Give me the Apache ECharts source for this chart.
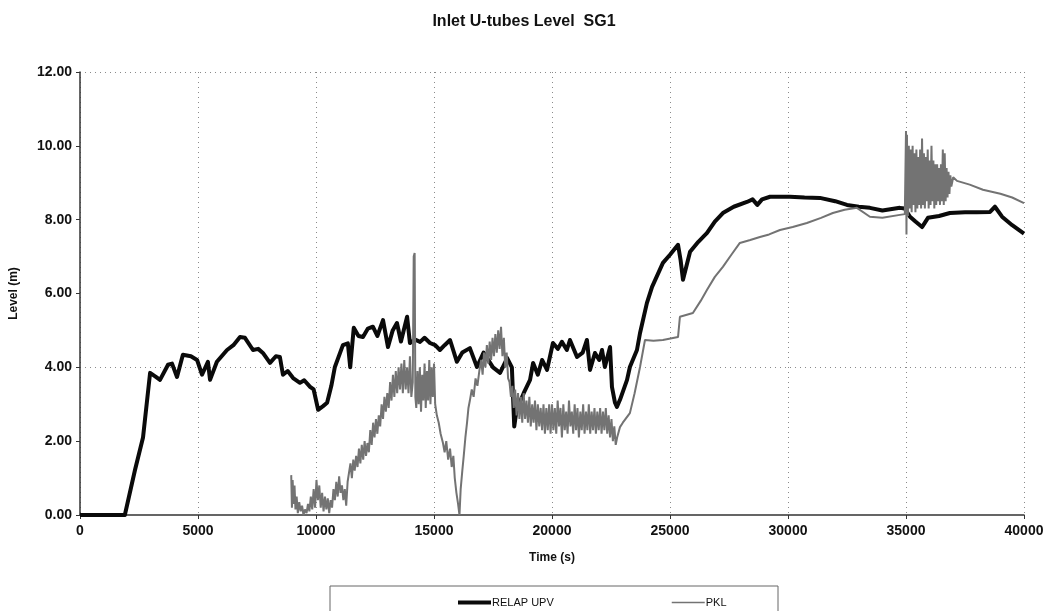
<!DOCTYPE html>
<html>
<head>
<meta charset="utf-8">
<script src="https://cdn.jsdelivr.net/npm/echarts@6/dist/echarts.min.js"></script>
<style>
html,body{margin:0;padding:0;background:#fff;}
#chart{width:1048px;height:611px;}
</style>
</head>
<body>
<div id="chart"></div>
<script>
// ---- data ----
const titleText = 'Inlet U-tubes Level  SG1';
const xTicks = [0, 5000, 10000, 15000, 20000, 25000, 30000, 35000, 40000];
const yTicks = [0, 2, 4, 6, 8, 10, 12];
const seriesNames = ['RELAP UPV', 'PKL'];

// RELAP UPV: [time s, level m]
const relapData = [
[0,0],[1900,0],[2330,1.22],[2670,2.1],[2970,3.85],[3200,3.75],[3390,3.66],[3730,4.07],[3900,4.1],[4110,3.74],
[4360,4.34],[4700,4.3],[4960,4.2],[5170,3.8],[5420,4.15],[5510,3.66],[5800,4.15],[6230,4.47],[6500,4.6],[6780,4.82],
[6990,4.8],[7330,4.47],[7550,4.5],[7750,4.39],[8050,4.12],[8300,4.3],[8470,4.28],[8600,3.8],[8800,3.9],[9030,3.71],
[9320,3.58],[9500,3.65],[9750,3.47],[9900,3.4],[10090,2.85],[10300,2.95],[10470,3.04],[10650,3.5],[10800,4.01],[11140,4.6],
[11350,4.65],[11450,4.0],[11600,5.07],[11800,4.85],[11990,4.82],[12200,5.05],[12410,5.1],[12600,4.85],[12840,5.28],[13050,4.55],
[13250,5.0],[13430,5.2],[13600,4.7],[13860,5.37],[13980,4.66],[14200,4.75],[14410,4.69],[14600,4.8],[14830,4.66],[15050,4.6],
[15250,4.47],[15450,4.6],[15680,4.74],[15970,4.15],[16200,4.4],[16520,4.52],[16820,4.01],[17100,4.4],[17500,4.0],[17800,3.85],
[18100,4.25],[18300,4.0],[18400,2.4],[18500,2.85],[18800,3.3],[19070,3.66],[19200,4.12],[19400,3.8],[19580,4.2],[19790,3.93],
[20040,4.66],[20250,4.5],[20420,4.69],[20630,4.47],[20760,4.74],[21060,4.28],[21300,4.4],[21480,4.74],[21610,3.93],[21820,4.39],
[22000,4.2],[22120,4.47],[22240,4.01],[22460,4.55],[22540,3.47],[22670,3.04],[22750,2.93],[22880,3.12],[23180,3.66],[23300,4.01],
[23600,4.47],[23730,4.93],[24020,5.74],[24240,6.18],[24700,6.83],[25000,7.05],[25340,7.32],[25450,6.9],[25550,6.37],[25850,7.13],
[26200,7.4],[26570,7.64],[26900,7.95],[27240,8.18],[27700,8.35],[28260,8.48],[28500,8.55],[28700,8.4],[28900,8.55],[29240,8.62],
[30080,8.62],[30700,8.6],[31350,8.59],[32000,8.5],[32500,8.4],[33000,8.35],[33470,8.32],[34000,8.25],[34740,8.32],[34950,8.3],
[35170,8.08],[35400,7.95],[35680,7.8],[35930,8.05],[36400,8.1],[36860,8.18],[37500,8.2],[38000,8.2],[38560,8.21],[38770,8.35],
[39070,8.08],[39500,7.85],[40000,7.62]
];

// PKL: [time s, level m]
const pklData = [
[8950,1.08],[8980,0.2],[9010,0.95],[9050,0.3],[9090,0.8],[9130,0.15],[9180,0.5],[9230,0.05],[9290,0.35],[9350,0.1],
[9410,0.25],[9470,0.0],[9530,0.15],[9600,0.05],[9660,0.3],[9720,0.1],[9780,0.5],[9840,0.15],[9900,0.7],[9960,0.2],
[10020,0.95],[10080,0.4],[10140,0.8],[10200,0.2],[10260,0.6],[10320,0.1],[10380,0.5],[10440,0.15],[10500,0.45],[10560,0.05],
[10620,0.4],[10680,0.2],[10740,0.7],[10800,0.4],[10860,0.9],[10920,0.5],[10980,1.05],[11040,0.6],[11100,0.8],[11160,0.4],
[11220,0.7],[11280,0.25],[11340,0.9],
[11400,0.9],[11460,1.4],[11520,1.0],[11580,1.5],[11640,1.2],[11700,1.6],[11760,1.3],[11820,1.8],[11880,1.4],[11940,1.9],
[12000,1.5],[12060,2.0],[12120,1.6],[12180,1.95],[12240,1.7],[12300,2.3],[12360,1.9],[12420,2.5],[12480,2.1],[12540,2.6],
[12600,2.2],[12660,2.7],[12720,2.4],[12780,3.0],[12840,2.6],[12900,3.2],[12960,2.8],[13020,3.3],[13080,2.9],[13140,3.6],
[13200,3.1],[13260,3.8],[13320,3.2],[13380,3.9],[13440,3.3],[13500,4.0],[13560,3.4],[13620,4.1],[13680,3.3],[13740,4.2],
[13800,3.4],[13860,4.0],[13920,3.3],[13980,4.3],[14040,3.2],
[14100,3.6],[14140,7.0],[14180,7.1],[14210,3.2],
[14250,2.9],[14300,3.9],[14350,3.0],[14400,4.0],[14450,2.8],[14500,3.8],[14550,3.1],[14600,4.1],[14650,2.9],[14700,3.9],
[14750,3.1],[14800,4.2],[14850,3.0],[14900,4.0],[14950,3.2],[15000,4.1],
[15050,3.0],[15120,2.7],[15200,2.5],[15280,2.2],[15380,1.95],[15450,1.7],[15520,2.0],[15600,1.5],[15680,1.8],[15750,1.3],
[15820,1.6],[15880,1.0],[15950,0.6],[16020,0.3],[16080,0.0],[16130,0.7],[16200,1.2],[16260,1.6],[16330,2.1],[16400,2.5],
[16460,2.9],[16520,3.1],[16600,3.4],[16680,3.2],[16760,3.7],[16840,3.5],[16920,3.9],
[17000,4.2],[17060,3.8],[17120,4.4],[17180,4.0],[17240,4.6],[17300,4.1],[17360,4.7],[17420,4.2],[17480,4.8],[17540,4.3],
[17600,4.9],[17660,4.4],[17720,5.0],[17780,4.5],[17840,5.1],[17900,4.3],[17960,4.8],[18020,4.0],[18080,4.4],[18140,3.7],
[18200,3.6],[18260,3.2],[18320,3.5],[18380,2.9],[18440,3.4],[18500,2.7],[18560,3.3],[18620,2.6],[18680,3.2],[18740,2.5],
[18800,3.3],[18860,2.6],[18920,3.1],[18980,2.5],[19040,3.2],[19100,2.4],[19160,3.0],[19220,2.5],[19280,3.1],[19340,2.3],
[19400,3.0],[19460,2.4],[19520,2.9],[19580,2.3],[19640,3.0],[19700,2.2],[19760,2.9],[19820,2.3],[19880,3.0],[19940,2.2],
[20000,3.0],[20060,2.3],[20120,2.9],[20180,2.2],[20240,3.1],[20300,2.4],[20360,2.9],[20420,2.1],[20480,3.0],[20540,2.3],
[20600,2.8],[20660,2.2],[20720,3.1],[20780,2.4],[20840,2.8],[20900,2.2],[20960,3.0],[21020,2.3],[21080,2.9],[21140,2.1],
[21200,2.8],[21260,2.3],[21320,3.0],[21380,2.2],[21440,2.8],[21500,2.3],[21560,3.0],[21620,2.2],[21680,2.8],[21740,2.3],
[21800,2.9],[21860,2.2],[21920,2.8],[21980,2.3],[22040,2.9],[22100,2.2],[22160,2.8],[22220,2.3],[22280,2.9],[22340,2.2],
[22400,2.7],[22460,2.1],[22520,2.6],[22580,2.0],[22640,2.4],[22700,1.9],[22760,2.1],
[22880,2.38],[23000,2.5],[23300,2.76],[23500,3.3],[23730,4.01],[23940,4.74],[24300,4.72],[24700,4.74],[25340,4.82],[25420,5.37],
[25970,5.47],[26300,5.8],[26570,6.1],[26900,6.45],[27240,6.72],[27600,7.05],[27960,7.37],[28400,7.45],[28810,7.53],[29200,7.6],
[29660,7.72],[30200,7.8],[30800,7.91],[31400,8.05],[31900,8.18],[32400,8.27],[32920,8.32],[33470,8.08],[34000,8.05],[34740,8.13],
[34950,8.15],
[35000,10.4],[35020,7.6],[35040,10.3],[35080,8.1],[35120,10.0],[35160,8.3],[35200,9.9],[35240,8.2],[35280,10.0],[35320,8.4],
[35360,9.8],[35400,8.2],[35440,9.9],[35480,8.3],[35520,9.7],[35560,8.4],[35600,9.9],[35640,8.3],[35680,10.2],[35720,8.4],
[35760,9.8],[35800,8.3],[35840,9.7],[35880,8.5],[35920,9.9],[35960,8.3],[36000,9.6],[36040,8.4],[36080,10.0],[36120,8.5],
[36160,9.6],[36200,8.3],[36240,9.5],[36280,8.4],[36320,9.5],[36360,8.5],[36400,9.4],[36440,8.4],[36480,9.5],[36520,8.5],
[36560,9.9],[36600,8.4],[36640,9.8],[36680,8.5],[36720,9.4],[36760,8.6],[36800,9.3],[36840,8.7],[36880,9.2],[36920,8.9],
[37000,9.15],[37160,9.05],[37700,8.95],[38260,8.81],[39000,8.7],[39500,8.6],[40000,8.45]
];

const chart = echarts.init(document.getElementById('chart'), null, {renderer: 'canvas'});
const FONT = '"Liberation Sans", Arial, sans-serif';
const clear = 'rgba(0,0,0,0)';
const RELAP_COLOR = '#0a0a0a';
const PKL_COLOR = '#737373';

chart.setOption({
  animation: false,
  backgroundColor: '#fff',
  title: {
    text: titleText,
    left: 'center',
    top: 9,
    textStyle: {fontFamily: FONT, fontSize: 16, fontWeight: 'bold', color: '#111'}
  },
  graphic: [{
    type: 'rect',
    shape: {x: 330, y: 586, width: 448, height: 40},
    style: {fill: '#fff', stroke: '#666', lineWidth: 1},
    z: 0
  }],
  legend: {
    top: 592,
    left: 453,
    itemGap: 118,
    itemWidth: 33,
    itemHeight: 10,
    data: [
      {name: seriesNames[0], icon: 'path://M0 0H33V4H0Z', itemStyle: {color: RELAP_COLOR}},
      {name: seriesNames[1], icon: 'path://M0 0H33V1.5H0Z', itemStyle: {color: PKL_COLOR}}
    ],
    textStyle: {fontFamily: FONT, fontSize: 11, color: '#111', padding: [0, 0, 0, -4]}
  },
  grid: {left: 80, right: 24, top: 72, bottom: 96, containLabel: false},
  xAxis: {
    type: 'value',
    min: xTicks[0],
    max: xTicks[xTicks.length - 1],
    interval: 5000,
    name: 'Time (s)',
    nameLocation: 'middle',
    nameGap: 37,
    nameTextStyle: {fontFamily: FONT, fontSize: 12, fontWeight: 'bold', color: '#111'},
    axisLine: {show: true, onZero: false, lineStyle: {color: '#333', width: 1.5}},
    axisTick: {show: true, length: 4, lineStyle: {color: '#333'}},
    axisLabel: {fontFamily: FONT, fontSize: 14, fontWeight: 'bold', color: '#111', margin: 9,
      formatter: v => String(v)},
    splitLine: {show: true, lineStyle: {color: '#8a8a8a', type: [1, 4], width: 1}}
  },
  yAxis: {
    type: 'value',
    min: yTicks[0],
    max: yTicks[yTicks.length - 1],
    interval: 2,
    name: 'Level (m)',
    nameLocation: 'middle',
    nameRotate: 90,
    nameGap: 60,
    nameTextStyle: {fontFamily: FONT, fontSize: 12, fontWeight: 'bold', color: '#111'},
    axisLine: {show: true, lineStyle: {color: '#333', width: 1.5}},
    axisTick: {show: true, length: 4, lineStyle: {color: '#333'}},
    axisLabel: {fontFamily: FONT, fontSize: 14, fontWeight: 'bold', color: '#111', margin: 8,
      formatter: v => v.toFixed(2)},
    splitLine: {show: true, lineStyle: {color: [clear, clear, '#8a8a8a', clear, clear, clear, '#8a8a8a'], type: [1, 4], width: 1}}
  },
  series: [
    {
      name: seriesNames[1],
      type: 'line',
      data: pklData,
      symbol: 'none',
      z: 3,
      lineStyle: {color: PKL_COLOR, width: 2},
      itemStyle: {color: PKL_COLOR}
    },
    {
      name: seriesNames[0],
      type: 'line',
      data: relapData,
      symbol: 'none',
      z: 2,
      lineStyle: {color: RELAP_COLOR, width: 4, join: 'round'},
      itemStyle: {color: RELAP_COLOR}
    }
  ]
});
</script>
</body>
</html>
